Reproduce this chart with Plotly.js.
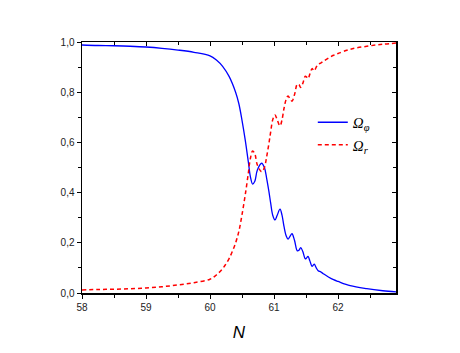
<!DOCTYPE html>
<html>
  <head>
    <meta http-equiv="content-type" content="text/html; charset=utf-8" />
    <script src="https://cdn.plot.ly/plotly-3.0.1.min.js"></script>
    <style>
      body { margin: 0; background-color: #FFFFFF; }
    </style>
  </head>
  <body>
    <div id="chart" style="width:460px;height:353px;"></div>
    <script>
      // values
      var nValues = [58, 58.25, 58.5, 58.75, 59, 59.25, 59.5, 59.75, 60, 60.1, 60.2, 60.3, 60.4, 60.45, 60.5,
        60.55, 60.6, 60.63, 60.667, 60.7, 60.74, 60.807, 60.85, 60.885, 60.92, 60.948, 60.98, 61.016, 61.05,
        61.094, 61.125, 61.156, 61.19, 61.219, 61.25, 61.281, 61.32, 61.364, 61.39, 61.417, 61.45, 61.489,
        61.51, 61.531, 61.56, 61.594, 61.61, 61.63, 61.66, 61.69, 61.73, 61.77, 61.85, 61.93, 62.0, 62.19,
        62.45, 62.7, 62.92];

      var omegaPhi = [0.988, 0.986, 0.985, 0.983, 0.980, 0.975, 0.968, 0.959, 0.945, 0.928, 0.902, 0.862, 0.800,
        0.755, 0.688, 0.610, 0.520, 0.465, 0.434, 0.445, 0.490, 0.517, 0.500, 0.457, 0.405, 0.358, 0.310, 0.291,
        0.310, 0.334, 0.310, 0.265, 0.228, 0.215, 0.226, 0.236, 0.210, 0.168, 0.170, 0.181, 0.165, 0.136, 0.140,
        0.146, 0.128, 0.106, 0.110, 0.115, 0.100, 0.089, 0.084, 0.077, 0.064, 0.053, 0.046, 0.029, 0.017, 0.009,
        0.004];

      var omegaR = [0.012, 0.014, 0.015, 0.017, 0.020, 0.025, 0.032, 0.041, 0.055, 0.072, 0.098, 0.138, 0.200,
        0.245, 0.312, 0.390, 0.480, 0.535, 0.566, 0.555, 0.510, 0.483, 0.500, 0.543, 0.595, 0.642, 0.690, 0.709,
        0.690, 0.666, 0.690, 0.735, 0.772, 0.785, 0.774, 0.764, 0.790, 0.832, 0.830, 0.819, 0.835, 0.864, 0.860,
        0.854, 0.872, 0.894, 0.890, 0.885, 0.900, 0.911, 0.916, 0.923, 0.936, 0.947, 0.954, 0.971, 0.983, 0.991,
        0.996];

      var xRange = [58, 62.906];
      var yRange = [0, 1];

      var sets = [
        {
          name: '<i>Ω</i><sub><i>φ</i></sub>',
          x: nValues,
          y: omegaPhi,
          type: 'scatter',
          mode: 'lines',
          line: { color: '#0000FF', width: 1.3, shape: 'spline' }
        },
        {
          name: '<i>Ω</i><sub><i>r</i></sub>',
          x: nValues,
          y: omegaR,
          type: 'scatter',
          mode: 'lines',
          line: { color: '#FF0000', width: 1.5, dash: '4px,3px', shape: 'spline' }
        },
        {
          // empty trace so the mirrored axes get drawn
          x: [],
          y: [],
          xaxis: 'x2',
          yaxis: 'y2',
          showlegend: false,
          hoverinfo: 'skip'
        }
      ];

      var tickFont = { family: 'Liberation Sans, Arial, sans-serif', size: 10, color: '#222222' };

      var options = {
        width: 460,
        height: 353,
        paper_bgcolor: '#FFFFFF',
        plot_bgcolor: '#FFFFFF',
        margin: { l: 82, r: 64, t: 42, b: 60 },
        separators: ',.',
        showlegend: true,
        legend: {
          x: 0.735,
          y: 0.745,
          xanchor: 'left',
          yanchor: 'top',
          bgcolor: 'rgba(0,0,0,0)',
          font: { family: 'Liberation Serif, serif', size: 15, color: '#000000' },
          tracegroupgap: 0
        },
        xaxis: {
          range: xRange,
          dtick: 1,
          tick0: 58,
          ticks: 'outside',
          ticklen: 4,
          tickwidth: 1,
          tickcolor: '#000000',
          minor: { dtick: 0.5, ticks: 'outside', ticklen: 3, tickcolor: '#000000', showgrid: false },
          showline: true,
          linewidth: 1.5,
          linecolor: '#000000',
          showgrid: false,
          zeroline: false,
          tickfont: tickFont,
          title: {
            text: '<i>N</i>',
            font: { family: 'Liberation Sans, Arial, sans-serif', size: 17, color: '#000000' },
            standoff: 14
          }
        },
        yaxis: {
          range: yRange,
          dtick: 0.2,
          tick0: 0,
          tickformat: '.1f',
          ticks: 'outside',
          ticklen: 4,
          tickwidth: 1,
          tickcolor: '#000000',
          minor: { dtick: 0.1, ticks: 'outside', ticklen: 3, tickcolor: '#000000', showgrid: false },
          showline: true,
          linewidth: 1.5,
          linecolor: '#000000',
          showgrid: false,
          zeroline: false,
          tickfont: tickFont
        },
        xaxis2: {
          overlaying: 'x',
          side: 'top',
          anchor: 'y2',
          range: xRange,
          dtick: 1,
          tick0: 58,
          ticks: 'inside',
          ticklen: 4,
          tickcolor: '#000000',
          minor: { dtick: 0.5, ticks: 'inside', ticklen: 3, tickcolor: '#000000', showgrid: false },
          showline: true,
          linewidth: 1.5,
          linecolor: '#000000',
          showgrid: false,
          zeroline: false,
          showticklabels: false
        },
        yaxis2: {
          overlaying: 'y',
          side: 'right',
          anchor: 'x2',
          range: yRange,
          dtick: 0.2,
          tick0: 0,
          ticks: 'inside',
          ticklen: 4,
          tickcolor: '#000000',
          minor: { dtick: 0.1, ticks: 'inside', ticklen: 3, tickcolor: '#000000', showgrid: false },
          showline: true,
          linewidth: 1.5,
          linecolor: '#000000',
          showgrid: false,
          zeroline: false,
          showticklabels: false
        }
      };

      Plotly.newPlot('chart', sets, options, { displayModeBar: false, staticPlot: true });
    </script>
  </body>
</html>
